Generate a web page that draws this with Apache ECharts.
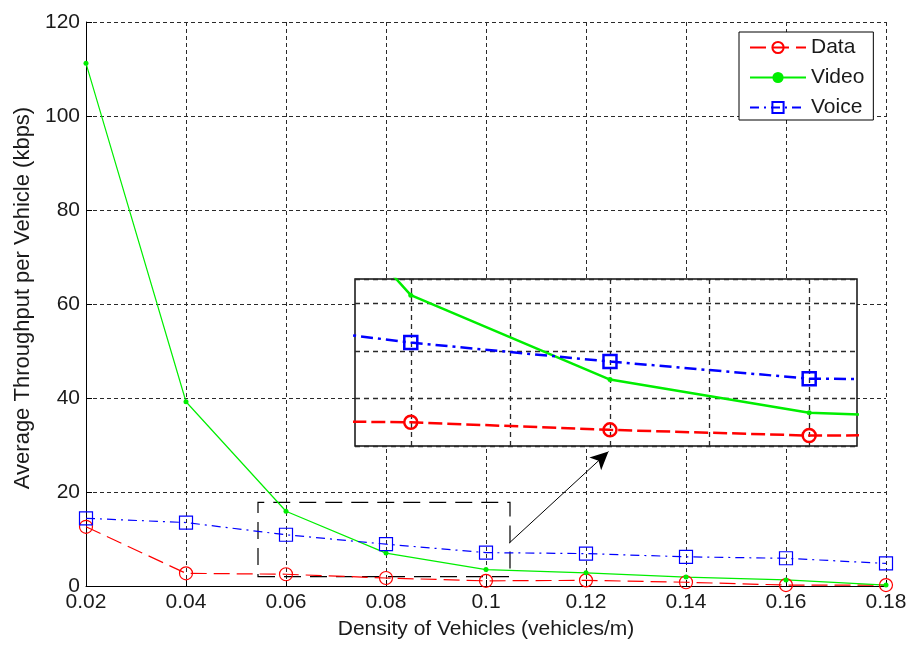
<!DOCTYPE html>
<html lang="en">
<head>
    <meta charset="UTF-8">
    <title>Average Throughput per Vehicle</title>
    <style>
        html, body { margin: 0; padding: 0; background: #fff; }
        #main { width: 914px; height: 648px; }
    </style>
</head>
<body>
<div id="main"></div>
<script src="https://cdn.jsdelivr.net/npm/echarts@6/dist/echarts.min.js"></script>
<script>
    // values
    var density = [0.02, 0.04, 0.06, 0.08, 0.10, 0.12, 0.14, 0.16, 0.18];
    var dataTp  = [12.6, 2.7, 2.5, 1.7, 1.1, 1.2, 0.8, 0.2, 0.2];
    var videoTp = [111.2, 39.2, 15.9, 7.0, 3.5, 2.8, 1.9, 1.3, 0.2];
    var voiceTp = [14.4, 13.5, 10.9, 8.9, 7.1, 6.9, 6.2, 5.9, 4.8];

    // zoomed window (inset) and the dashed box / arrow on the main plot
    var zoomX = [0.0544, 0.1048];
    var zoomY = [0, 17.6];
    var zoomGridX = [0.06, 0.07, 0.08, 0.09, 0.10];
    var zoomBox = [0.0544, 2.0, 0.1048, 17.8];
    var arrowFrom = [0.1046, 9.1];
    var arrowTo = [0.1245, 28.6];

    var FONT = "'Liberation Sans', Arial, sans-serif";
    var TXT = '#1a1a1a';
    var GRIDLINE = { color: '#2a2a2a', width: 1, type: [4, 3] };
    var ZOOMGRID = { color: '#2a2a2a', width: 1.3, type: [5, 4] };

    function pairs(vals) {
        return density.map(function (x, i) { return [x, vals[i]]; });
    }

    var looks = {
        Data:  { color: '#ff0000', symbol: 'circle', size: 13, hollow: true, dash: [16, 7], dashZoom: [14, 5] },
        Video: { color: '#00ee00', symbol: 'circle', size: 5, hollow: false, dash: 'solid', dashZoom: 'solid' },
        Voice: { color: '#0000ff', symbol: 'rect', size: 13, hollow: true, dash: [9, 5, 2, 5], dashZoom: [12, 5, 3, 5] }
    };

    function makeSeries(name, vals, inset) {
        var lk = looks[name];
        return {
            name: name,
            type: 'line',
            xAxisIndex: inset ? 1 : 0,
            yAxisIndex: inset ? 1 : 0,
            z: inset ? 12 : 2,
            data: pairs(vals),
            symbol: lk.symbol,
            symbolSize: lk.size,
            showAllSymbol: true,
            clip: true,
            lineStyle: { color: lk.color, width: inset ? 2.5 : 1.2, type: inset ? lk.dashZoom : lk.dash },
            itemStyle: lk.hollow
                ? { color: 'rgba(255,255,255,0)', borderColor: lk.color, borderWidth: inset ? 2.5 : 1.2 }
                : { color: lk.color, borderColor: lk.color, borderWidth: 0 },
            emphasis: { disabled: true }
        };
    }

    var myChart = echarts.init(document.getElementById('main'));

    var mainData = makeSeries('Data', dataTp, false);
    mainData.markArea = {
        silent: true,
        itemStyle: { color: 'rgba(0,0,0,0)', borderColor: '#000', borderWidth: 1.2, borderType: [17, 9] },
        data: [[{ xAxis: zoomBox[0], yAxis: zoomBox[1] }, { xAxis: zoomBox[2], yAxis: zoomBox[3] }]]
    };

    var mainVideo = makeSeries('Video', videoTp, false);
    mainVideo.markLine = {
        silent: true,
        symbol: ['none', 'arrow'],
        symbolSize: [13, 18],
        label: { show: false },
        lineStyle: { color: '#000', width: 1, type: 'solid' },
        itemStyle: { color: '#000' },
        emphasis: { disabled: true },
        data: [[{ coord: arrowFrom }, { coord: arrowTo }]]
    };

    // invisible carrier for the inset's vertical grid lines
    var zoomGrid = {
        name: 'zoomGrid', type: 'line',
        xAxisIndex: 1, yAxisIndex: 1, z: 11,
        data: pairs(dataTp),
        symbol: 'none',
        lineStyle: { opacity: 0 },
        silent: true,
        markLine: {
            z: 11,
            silent: true, symbol: 'none',
            label: { show: false },
            lineStyle: ZOOMGRID,
            emphasis: { disabled: true },
            data: zoomGridX.map(function (v) { return { xAxis: v }; })
        }
    };

    option = {
        animation: false,
        backgroundColor: '#fff',
        textStyle: { fontFamily: FONT },
        grid: [
            { left: 86, top: 22, width: 800, height: 564 },
            { left: 355, top: 279, width: 502, height: 167, show: true, z: 10,
              backgroundColor: '#fff', borderColor: '#111', borderWidth: 1.5 }
        ],
        legend: {
            data: ['Data', 'Video', 'Voice'],
            orient: 'vertical',
            left: 739,
            top: 32,
            backgroundColor: '#fff',
            borderColor: '#000',
            borderWidth: 1,
            borderRadius: 0,
            padding: [5, 9, 2, 10],
            itemWidth: 56,
            itemHeight: 14,
            itemGap: 9,
            textStyle: { fontSize: 21, color: TXT, fontFamily: FONT }
        },
        xAxis: [
            {
                type: 'value', gridIndex: 0,
                min: 0.02, max: 0.18, interval: 0.02,
                name: 'Density of Vehicles (vehicles/m)',
                nameLocation: 'middle', nameGap: 33,
                nameTextStyle: { fontSize: 21, color: TXT, fontFamily: FONT },
                axisLine: { lineStyle: { color: '#000', width: 1 } },
                axisTick: { inside: true, length: 6, lineStyle: { color: '#000' } },
                axisLabel: {
                    fontSize: 21, color: TXT, margin: 6, fontFamily: FONT,
                    formatter: function (v) { return String(+v.toFixed(2)); }
                },
                splitLine: { show: true, lineStyle: GRIDLINE }
            },
            {
                type: 'value', gridIndex: 1, z: 11,
                min: zoomX[0], max: zoomX[1],
                axisLine: { show: false }, axisTick: { show: false },
                axisLabel: { show: false }, splitLine: { show: false }
            }
        ],
        yAxis: [
            {
                type: 'value', gridIndex: 0,
                min: 0, max: 120, interval: 20,
                name: 'Average Throughput per Vehicle (kbps)',
                nameLocation: 'middle', nameGap: 52,
                nameTextStyle: { fontSize: 22, color: TXT, fontFamily: FONT, padding: [0, 0, 0, 12] },
                axisLine: { show: true, lineStyle: { color: '#000', width: 1 } },
                axisTick: { show: true, inside: true, length: 6, lineStyle: { color: '#000' } },
                axisLabel: { fontSize: 21, color: TXT, margin: 6, fontFamily: FONT },
                splitLine: { show: true, lineStyle: GRIDLINE }
            },
            {
                type: 'value', gridIndex: 1, z: 11,
                min: zoomY[0], max: zoomY[1], interval: 5,
                axisLine: { show: false }, axisTick: { show: false },
                axisLabel: { show: false },
                splitLine: { show: true, lineStyle: ZOOMGRID }
            }
        ],
        series: [
            mainData,
            mainVideo,
            makeSeries('Voice', voiceTp, false),
            zoomGrid,
            makeSeries('Data', dataTp, true),
            makeSeries('Video', videoTp, true),
            makeSeries('Voice', voiceTp, true)
        ]
    };

    myChart.setOption(option);
</script>
</body>
</html>
